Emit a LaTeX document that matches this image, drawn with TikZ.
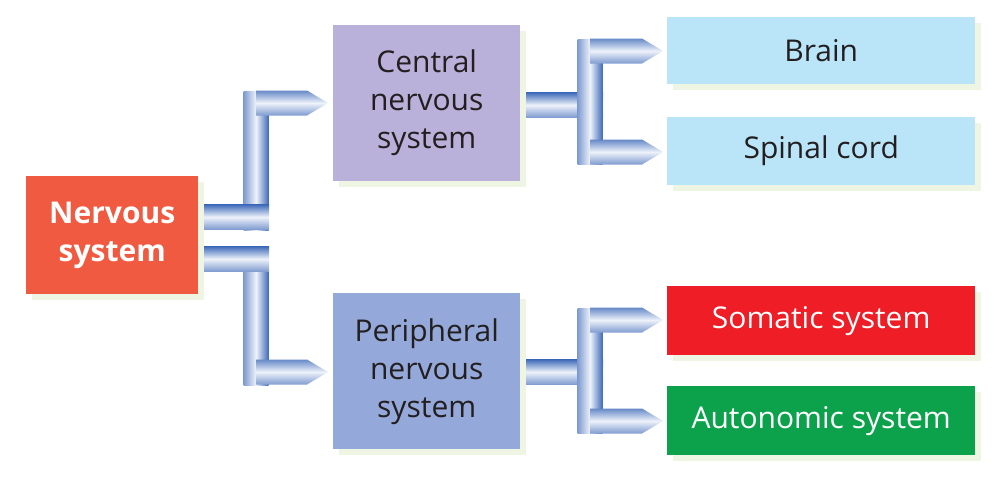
\documentclass[tikz,border=0pt]{standalone}
\usepackage{fontspec}
\setmainfont{Open Sans}
\usetikzlibrary{shadows}
\definecolor{nsred}{HTML}{F05A40}
\definecolor{cnsc}{HTML}{B9B1D9}
\definecolor{pnsc}{HTML}{94A9D9}
\definecolor{lightb}{HTML}{BAE4F8}
\definecolor{somc}{HTML}{EE1D26}
\definecolor{autc}{HTML}{0CA24B}
\definecolor{txt}{HTML}{231F20}
\definecolor{shadowc}{HTML}{EEF5E2}
\definecolor{pipeD}{HTML}{3F6BB9}
\definecolor{pipeM}{HTML}{7E9BD0}
\definecolor{pipeL}{HTML}{EEF2FA}
\newcommand\hpipe[3]{\shade[top color=pipeD, bottom color=pipeM, middle color=pipeL] (#1,#3-12.5) rectangle (#2,#3+12.5);}
\newcommand\vpipe[3]{\shade[left color=pipeM, right color=pipeD, middle color=pipeL] (#1-12.5,#2) rectangle (#1+12.5,#3);}
\newcommand\harrow[3]{\shade[top color=pipeD!80, bottom color=pipeM, middle color=pipeL] (#1,#3-12.5) -- (#2-21,#3-12.5) -- (#2,#3) -- (#2-21,#3+12.5) -- (#1,#3+12.5) -- cycle;}
\tikzset{
  box/.style={anchor=north west, inner sep=0pt, align=center,
    font=\fontsize{30}{38}\selectfont,
    drop shadow={shadow xshift=6pt, shadow yshift=-6pt, fill=shadowc, opacity=1}},
}
\begin{document}
\begin{tikzpicture}[x=1pt,y=-1pt]
\useasboundingbox (0,0) rectangle (1000,480);
% pipes from nervous system
\vpipe{256}{91}{230}
\vpipe{256}{247}{385}
\hpipe{198}{269}{217}
\hpipe{198}{269}{259}
\harrow{256}{328}{103}
\harrow{256}{328}{372}
% pipes from CNS
\hpipe{520}{603}{105}
\vpipe{590}{39}{164}
\harrow{590}{663}{51}
\harrow{590}{663}{152}
% pipes from PNS
\hpipe{520}{603}{372}
\vpipe{590}{308}{433}
\harrow{590}{663}{320}
\harrow{590}{663}{421}
% boxes
\node[box, fill=nsred, text=white, minimum width=172pt, minimum height=118pt] (ns) at (26,176) {\bfseries Nervous\\\bfseries system};
\node[box, fill=cnsc, text=txt, minimum width=187pt, minimum height=156pt] (cns) at (333,25) {Central\\nervous\\system};
\node[box, fill=pnsc, text=txt, minimum width=187pt, minimum height=156pt] (pns) at (333,293) {Peripheral\\nervous\\system};
\node[box, fill=lightb, text=txt, minimum width=308pt, minimum height=67pt] (brain) at (667,17) {Brain};
\node[box, fill=lightb, text=txt, minimum width=308pt, minimum height=68pt] (spinal) at (667,117) {Spinal cord};
\node[box, fill=somc, text=white, minimum width=308pt, minimum height=69pt] (som) at (667,286) {Somatic system};
\node[box, fill=autc, text=white, minimum width=308pt, minimum height=69pt] (aut) at (667,386) {Autonomic system};
\end{tikzpicture}
\end{document}
